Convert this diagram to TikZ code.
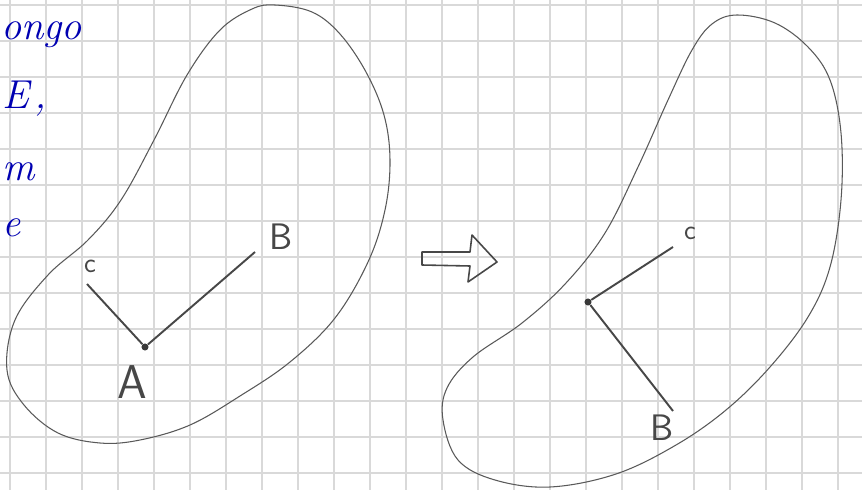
\documentclass[tikz,border=0pt]{standalone}
\usetikzlibrary{positioning}

\begin{document}
\begin{tikzpicture}[
    x=0.02cm, y=-0.02cm,
    gridline/.style={draw=black!15, line width=0.9pt},
    blob/.style={draw=black!65, line width=0.6pt},
    seg/.style={draw=black!72, line width=1.1pt},
    pt/.style={circle, fill=black!78, inner sep=0pt, minimum size=4pt},
    lbl/.style={text=black!72, inner sep=1pt, font=\sffamily},
    note/.style={anchor=base west, inner sep=0pt, text=blue!70!black, font=\fontsize{23}{23}\selectfont\itshape}
]
\useasboundingbox[fill=white] (0,0) rectangle (862,490);
% squared paper
\foreach \gx in {0,...,23} \draw[gridline] (10+36*\gx,0) -- (10+36*\gx,490);
\foreach \gy in {0,...,13} \draw[gridline] (0,5+36*\gy) -- (862,5+36*\gy);

% margin text
\node[note] (w1) at (1,39) {ongo};
\node[note] (w2) at (2,108) {E\hspace{3pt},};
\node[note] (w3) at (2,180) {m};
\node[note] (w4) at (2,236) {e};

% left body
\draw[blob] plot[smooth cycle, tension=0.6] coordinates {
    (275,5) (312,12) (340,34) (366,72) (384,115) (390,160) (385,210)
    (368,262) (335,318) (290,362) (240,396) (190,425) (140,440) (100,443)
    (58,433) (24,405) (7,370) (15,320) (48,275) (88,240) (121,200)
    (154,140) (187,75) (220,30) (252,9)};

\node[pt] (A) at (145,347) {};
\coordinate (lC) at (87,284);
\coordinate (lB) at (255,252);
\draw[seg] (lC) -- (A) -- (lB);
\node[lbl, font=\sffamily\fontsize{16}{16}\selectfont] (labC) at (90,266) {c};
\node[lbl, font=\sffamily\fontsize{21}{21}\selectfont] (labB) at (281,237) {B};
\node[lbl, font=\sffamily\fontsize{27}{27}\selectfont] (labA) at (132,382) {A};

% hollow arrow
\draw[seg, line width=0.9pt, line join=round] (422,252) -- (470,252) -- (472,235) -- (497,262)
    -- (468,282) -- (470,266) -- (422,265) -- cycle;

% right body
\draw[blob] plot[smooth cycle, tension=0.6] coordinates {
    (737,15) (775,23) (808,47) (830,80) (841,133) (841,200) (830,267)
    (808,317) (770,367) (726,410) (676,445) (616,474) (550,487) (495,480)
    (458,460) (443,420) (447,388) (473,357) (522,323) (566,283) (605,233)
    (638,167) (668,100) (692,50) (712,24)};

\node[pt] (O) at (588,302) {};
\coordinate (rC) at (673,247);
\coordinate (rB) at (673,411);
\draw[seg] (rC) -- (O) -- (rB);
\node[lbl, font=\sffamily\fontsize{16}{16}\selectfont] (labC2) at (690,233) {c};
\node[lbl, font=\sffamily\fontsize{21}{21}\selectfont] (labB2) at (662,428) {B};
\end{tikzpicture}
\end{document}
